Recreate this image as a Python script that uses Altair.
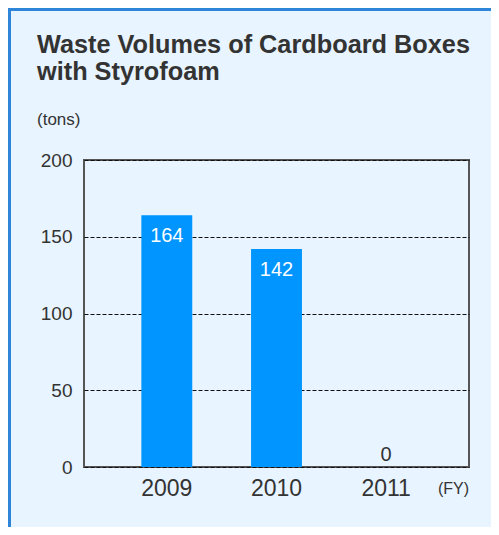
import altair as alt
import pandas as pd

years = ["2009", "2010", "2011"]
values = [164, 142, 0]
y_ticks = [0, 50, 100, 150, 200]
title_lines = ["Waste Volumes of Cardboard Boxes", "with Styrofoam"]
unit_label = "(tons)"
x_unit_label = "(FY)"

FONT = "Liberation Sans"
TEXT = "#333333"
BAR = "#0095ff"
BG = "#e8f4ff"
BORDER = "#2f86d8"

df = pd.DataFrame({"year": years, "value": values})

x_enc = alt.X("year:N", sort=years,
              scale=alt.Scale(paddingInner=0.536, paddingOuter=0.523),
              axis=alt.Axis(title=None, labelAngle=0, ticks=False, domain=False,
                            labelFontSize=23, labelColor=TEXT, labelFont=FONT,
                            labelPadding=10, grid=False))
y_enc = alt.Y("value:Q", scale=alt.Scale(domain=[0, 200], nice=False),
              axis=alt.Axis(title=None, values=y_ticks, ticks=False, domain=False,
                            labelFontSize=19, labelColor=TEXT, labelFont=FONT,
                            labelPadding=12, grid=True, gridColor="#111111",
                            gridDash=[4, 2], gridWidth=1))

base = alt.Chart(df)
bars = base.mark_bar(color=BAR).encode(x=x_enc, y=y_enc)
inside = base.transform_filter("datum.value > 0").mark_text(
    color="white", fontSize=20, font=FONT, baseline="middle", dy=21
).encode(x=alt.X("year:N", sort=years), y="value:Q", text="value:Q")
zero = base.transform_filter("datum.value == 0").mark_text(
    color=TEXT, fontSize=20, font=FONT, baseline="middle", dy=-12
).encode(x=alt.X("year:N", sort=years), y="value:Q", text="value:Q")

def label(txt, x, y, size, bold=False, align="left"):
    return alt.Chart(pd.DataFrame({"t": [txt]})).mark_text(
        fontSize=size, font=FONT, color=TEXT, align=align, baseline="alphabetic",
        fontWeight="bold" if bold else "normal"
    ).encode(x=alt.value(x), y=alt.value(y), text="t:N")

t1 = label(title_lines[0], -47, -107, 25.3, bold=True)
t2 = label(title_lines[1], -47, -80, 25.3, bold=True)
tons = label(unit_label, -47, -35, 17)
fy = label(x_unit_label, 385, 334, 16, align="right")

rule_df = pd.DataFrame({"k": [0]})
top_border = alt.Chart(rule_df).mark_rule(color=BORDER, strokeWidth=3).encode(
    x=alt.value(-76), x2=alt.value(407), y=alt.value(-150.5))
left_border = alt.Chart(rule_df).mark_rule(color=BORDER, strokeWidth=3).encode(
    x=alt.value(-74.5), y=alt.value(-152), y2=alt.value(367))

chart = alt.layer(bars, inside, zero, t1, t2, tons, fy, top_border, left_border).properties(
    width=385, height=307,
    padding={"left": 76, "top": 152, "right": 22, "bottom": 60},
    autosize="none",
    background=BG,
).configure_view(stroke="#555555", strokeWidth=2)

chart.save("out.html", embed_options={"renderer": "svg", "actions": False})
